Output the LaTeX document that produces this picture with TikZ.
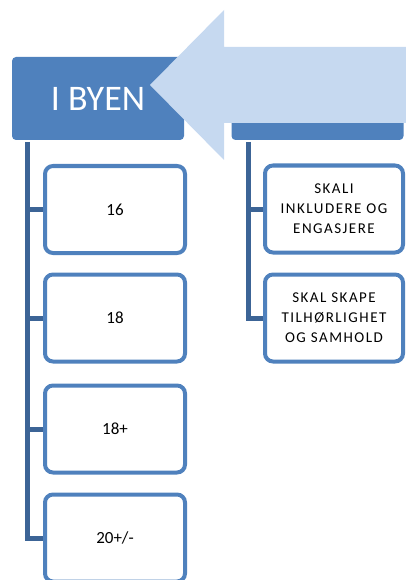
\documentclass[tikz,border=0pt]{standalone}
\usepackage{fontspec}
\setmainfont{Carlito}
\definecolor{hblue}{HTML}{4F81BD}
\definecolor{lblue}{HTML}{3C6496}
\definecolor{arrowblue}{HTML}{C6D9F0}
\begin{document}
\begin{tikzpicture}[x=1pt,y=-1pt,
  hdr/.style={fill=hblue, rounded corners=4pt, minimum width=172pt, minimum height=83pt, inner sep=0pt},
  child/.style={draw=hblue, line width=4pt, fill=white, rounded corners=8pt, minimum width=140pt, minimum height=87pt, inner sep=0pt, align=center, text=black},
  numtext/.style={font=\fontsize{17}{20}\selectfont},
  captext/.style={font=\fontsize{15}{20}\selectfont\addfontfeature{LetterSpace=10}},
  conn/.style={draw=lblue, line width=5pt}]
\useasboundingbox (0,0) rectangle (406,580);
\clip (0,0) rectangle (406,580);
% header boxes
\node[hdr, text=white, font=\fontsize{36}{40}\selectfont] (h1) at (98,98.5) {I BYEN};
\node[hdr] (h2) at (317.5,98.5) {};
% block arrow
\fill[arrowblue] (150,85) -- (224,10) -- (224,47) -- (412,47) -- (412,123) -- (224,123) -- (224,160) -- cycle;
% left children
\node[child, numtext] (c1) at (115,209.5) {16};
\node[child, numtext] (c2) at (115,318) {18};
\node[child, numtext] (c3) at (115,429) {18+};
\node[child, numtext] (c4) at (115,538) {20+/-};
% right children
\node[child, captext, minimum width=138pt] (r1) at (334,209) {SKALI\\INKLUDERE OG\\ENGASJERE};
\node[child, captext, minimum width=138pt] (r2) at (334,318) {SKAL SKAPE\\TILHØRLIGHET\\OG SAMHOLD};
% connectors
\coordinate (lt) at (27.5,142);
\coordinate (rt) at (248.5,142);
\draw[conn] (lt) |- (c4.west);
\draw[conn] (lt |- c1.west) -- (c1.west);
\draw[conn] (lt |- c2.west) -- (c2.west);
\draw[conn] (lt |- c3.west) -- (c3.west);
\draw[conn] (rt) |- (r2.west);
\draw[conn] (rt |- r1.west) -- (r1.west);
\end{tikzpicture}
\end{document}
